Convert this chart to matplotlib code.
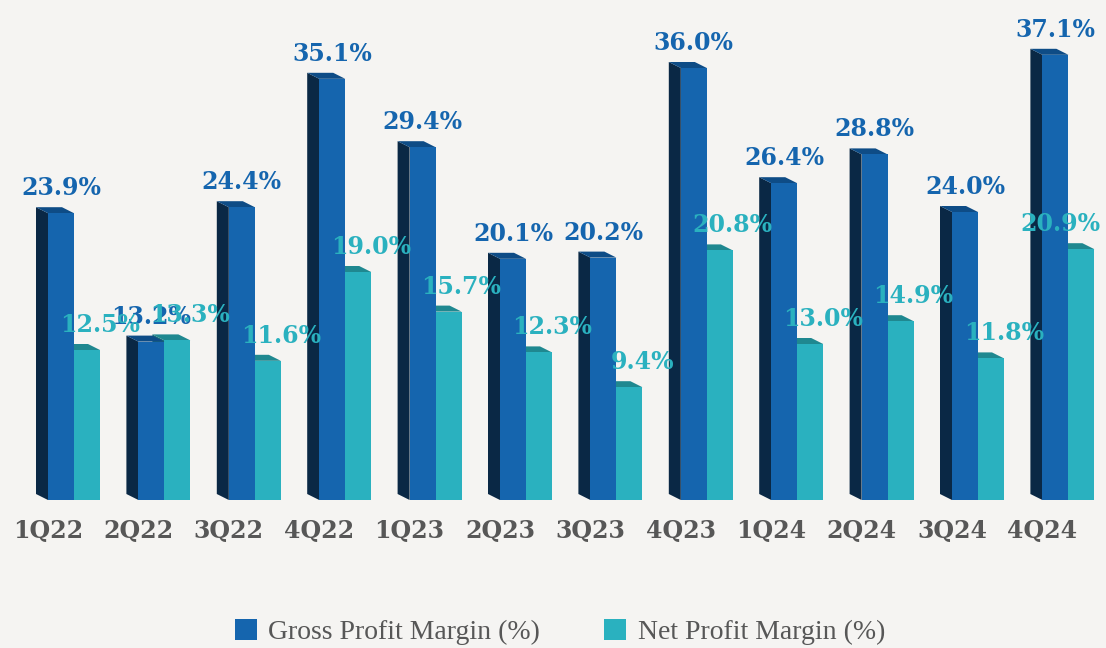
import matplotlib
matplotlib.use("Agg")
import matplotlib.pyplot as plt
from matplotlib.patches import Polygon, Patch
import numpy as np

quarters = ["1Q22", "2Q22", "3Q22", "4Q22", "1Q23", "2Q23", "3Q23", "4Q23",
            "1Q24", "2Q24", "3Q24", "4Q24"]
gross = [23.9, 13.2, 24.4, 35.1, 29.4, 20.1, 20.2, 36.0, 26.4, 28.8, 24.0, 37.1]
net = [12.5, 13.3, 11.6, 19.0, 15.7, 12.3, 9.4, 20.8, 13.0, 14.9, 11.8, 20.9]
series_names = ["Gross Profit Margin (%)", "Net Profit Margin (%)"]

BG = "#f5f4f2"
G_FRONT, G_SIDE, G_TOP = "#1565ae", "#0a2845", "#0e4c86"
N_FRONT, N_SIDE, N_TOP = "#2ab1bf", "#1b6e76", "#1f8890"
TICK_C = "#575757"

W, H = 1106, 648
fig = plt.figure(figsize=(W / 100, H / 100), dpi=100)
fig.patch.set_facecolor(BG)

px_cat = 90.4          # pixels per category
base_px = 500          # baseline from top
px_pct = 12.0          # pixels per percent
ax = fig.add_axes([0, (H - base_px) / H, 1, base_px / H])
ax.set_facecolor(BG)
ax.set_xlim(-48 / px_cat, (W - 48) / px_cat)
ax.set_ylim(0, base_px / px_pct)

x = np.arange(len(quarters))
w = 26 / px_cat
dx = 12 / px_cat
dy = 0.5


def faces(x0, v, side_c, top_c, z):
    side = Polygon([(x0, 0), (x0, v), (x0 - dx, v + dy), (x0 - dx, dy)],
                   closed=True, facecolor=side_c, edgecolor="none", zorder=z)
    top = Polygon([(x0, v), (x0 + w, v), (x0 + w - dx, v + dy), (x0 - dx, v + dy)],
                  closed=True, facecolor=top_c, edgecolor="none", zorder=z)
    ax.add_patch(side)
    ax.add_patch(top)


for xi, v in zip(x, net):
    faces(xi + w, v, N_SIDE, N_TOP, 1)
ax.bar(x + w, net, width=w, align="edge", color=N_FRONT, zorder=2,
       label=series_names[1], linewidth=0)
for xi, v in zip(x, gross):
    faces(xi, v, G_SIDE, G_TOP, 3)
ax.bar(x, gross, width=w, align="edge", color=G_FRONT, zorder=4,
       label=series_names[0], linewidth=0)

lab_font = dict(family="DejaVu Serif", fontweight="bold", fontsize=17)
texts = []
for xi, v in zip(x, gross):
    t = ax.annotate(f"{v:.1f}%", xy=(xi + w / 2, v), xytext=(0, 18),
                    textcoords="offset pixels", ha="center", va="baseline",
                    color=G_FRONT, zorder=6, **lab_font)
    texts.append(t)
for xi, v in zip(x, net):
    t = ax.annotate(f"{v:.1f}%", xy=(xi + 1.5 * w, v), xytext=(13, 18),
                    textcoords="offset pixels", ha="center", va="baseline",
                    color=N_FRONT, zorder=6, **lab_font)
    texts.append(t)

ax.set_xticks(x)
ax.set_xticklabels(quarters, color=TICK_C, **lab_font)
ax.tick_params(axis="x", length=0, pad=14)
ax.set_yticks([])
for s in ax.spines.values():
    s.set_visible(False)

handles = [Patch(facecolor=G_FRONT), Patch(facecolor=N_FRONT)]
leg = fig.legend(handles, series_names, loc="center", bbox_to_anchor=(560 / W, 1 - 632 / H),
                 ncol=2, frameon=False, handlelength=0.8, handleheight=0.8,
                 handletextpad=0.4, columnspacing=2.3,
                 prop=dict(family="Liberation Serif", size=20))
for t in leg.get_texts():
    t.set_color(TICK_C)

# keep labels inside the canvas
fig.canvas.draw()
r = fig.canvas.get_renderer()
for t in texts:
    bb = t.get_window_extent(r)
    if bb.x1 > W - 6:
        ox, oy = t.xyann
        t.xyann = (ox - (bb.x1 - (W - 6)), oy)

fig.savefig("out.png", dpi=100, facecolor=BG)
